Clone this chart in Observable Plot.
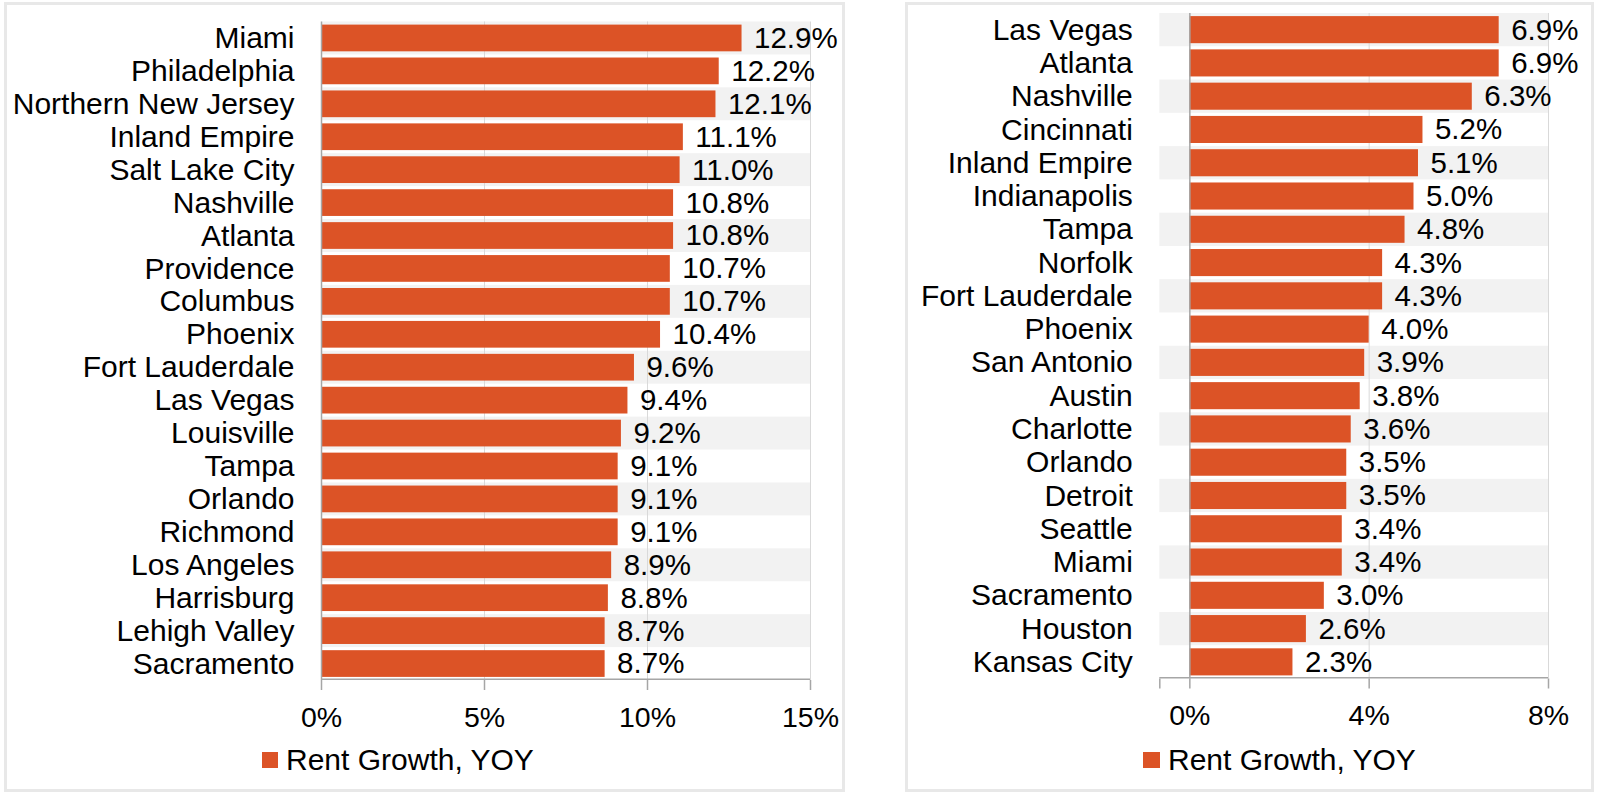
<!DOCTYPE html>
<html>
<head>
<meta charset="utf-8">
<script src="https://cdn.jsdelivr.net/npm/d3@7"></script>
<script src="https://cdn.jsdelivr.net/npm/@observablehq/plot@0.6"></script>
<style>
  html, body { margin: 0; padding: 0; background: #fff; }
  #page { position: relative; width: 1600px; height: 795px; overflow: hidden; background: #fff;
          font-family: "Liberation Sans", Arial, sans-serif; color: #000; }
  .panel { position: absolute; box-sizing: border-box; border: 3px solid #e8e8e8; background: #fff; }
  .chart { position: absolute; top: 0; }
  .swatch { position: absolute; background: #dc5326; height: 16px; }
  .legtext { position: absolute; font-size: 30px; line-height: 30px; white-space: nowrap; }
</style>
</head>
<body>
<div id="page">
  <div class="panel" style="left:4px; top:2px; width:841px; height:790px;"></div>
  <div class="panel" style="left:905px; top:2px; width:689px; height:790px;"></div>
  <div id="left" class="chart" style="left:0px;"></div>
  <div id="right" class="chart" style="left:880px;"></div>
  <div class="swatch" style="left:262px; top:752px; width:16px;"></div>
  <div class="legtext" style="left:286px; top:745px;">Rent Growth, YOY</div>
  <div class="swatch" style="left:1143px; top:752px; width:17px;"></div>
  <div class="legtext" style="left:1168px; top:745px;">Rent Growth, YOY</div>
</div>
<script>
const leftCities = ["Miami", "Philadelphia", "Northern New Jersey", "Inland Empire", "Salt Lake City",
  "Nashville", "Atlanta", "Providence", "Columbus", "Phoenix", "Fort Lauderdale", "Las Vegas",
  "Louisville", "Tampa", "Orlando", "Richmond", "Los Angeles", "Harrisburg", "Lehigh Valley", "Sacramento"];
const leftValues = [12.9, 12.2, 12.1, 11.1, 11.0, 10.8, 10.8, 10.7, 10.7, 10.4, 9.6, 9.4, 9.2, 9.1, 9.1, 9.1, 8.9, 8.8, 8.7, 8.7];
const leftTicks = [0, 5, 10, 15];

const rightCities = ["Las Vegas", "Atlanta", "Nashville", "Cincinnati", "Inland Empire", "Indianapolis",
  "Tampa", "Norfolk", "Fort Lauderdale", "Phoenix", "San Antonio", "Austin", "Charlotte", "Orlando",
  "Detroit", "Seattle", "Miami", "Sacramento", "Houston", "Kansas City"];
const rightValues = [6.9, 6.9, 6.3, 5.2, 5.1, 5.0, 4.8, 4.3, 4.3, 4.0, 3.9, 3.8, 3.6, 3.5, 3.5, 3.4, 3.4, 3.0, 2.6, 2.3];
const rightTicks = [0, 4, 8];
const rightAxisMin = -0.67;

const SERIES = "Rent Growth, YOY";
const ORANGE = "#dc5326";
const FONT = "'Liberation Sans', Arial, sans-serif";

function chart({cities, values, domain, ticks, width, height, marginLeft, marginRight, marginTop, marginBottom}) {
  const data = cities.map((c, i) => ({city: c, value: values[i], i}));
  const axisTicks = domain[0] < 0 ? [domain[0], ...ticks] : ticks;
  const step = (height - marginTop - marginBottom) / cities.length;
  return Plot.plot({
    width, height, marginLeft, marginRight, marginTop, marginBottom,
    style: {background: "transparent", fontFamily: FONT, fontSize: "30px", color: "#000", overflow: "visible"},
    x: {domain},
    y: {domain: cities, padding: 0, round: false},
    marks: [
      Plot.barX(data.filter(d => d.i % 2 === 0), {x1: () => domain[0], x2: () => domain[1], y: "city", fill: "#f2f2f2"}),
      Plot.ruleX(ticks.filter(t => t !== 0), {stroke: "#d9d9d9", strokeWidth: 1}),
      Plot.barX(data, {x: "value", y: "city", fill: ORANGE, insetTop: 3.1, insetBottom: 3.1}),
      Plot.ruleX([0], {stroke: "#a6a6a6", strokeWidth: 1.5}),
      Plot.barX([cities[cities.length - 1]], {x1: () => domain[0], x2: () => domain[1], y: d => d,
        fill: "#a6a6a6", insetTop: step - 1.5}),
      Plot.axisX({ticks: axisTicks, tickFormat: d => d < 0 ? "" : d + "%", tickSize: 10, tickPadding: 16,
        stroke: "#a6a6a6", strokeWidth: 1.5, fill: "#000", fontSize: 28.5, label: null}),
      Plot.axisY({tickSize: 0, tickPadding: 27, fontSize: 30, fill: "#000", label: null}),
      Plot.text(data, {x: "value", y: "city", text: d => d.value.toFixed(1) + "%", dx: 12,
        textAnchor: "start", fontSize: 29.5, fill: "#000"})
    ]
  });
}

document.getElementById("left").appendChild(chart({
  cities: leftCities, values: leftValues, domain: [0, 15], ticks: leftTicks,
  width: 845, height: 740, marginLeft: 321, marginRight: 35, marginTop: 21.5, marginBottom: 60
}));
document.getElementById("right").appendChild(chart({
  cities: rightCities, values: rightValues, domain: [rightAxisMin, 8], ticks: rightTicks,
  width: 720, height: 740, marginLeft: 279.3, marginRight: 52, marginTop: 13, marginBottom: 61.5
}));
</script>
</body>
</html>
